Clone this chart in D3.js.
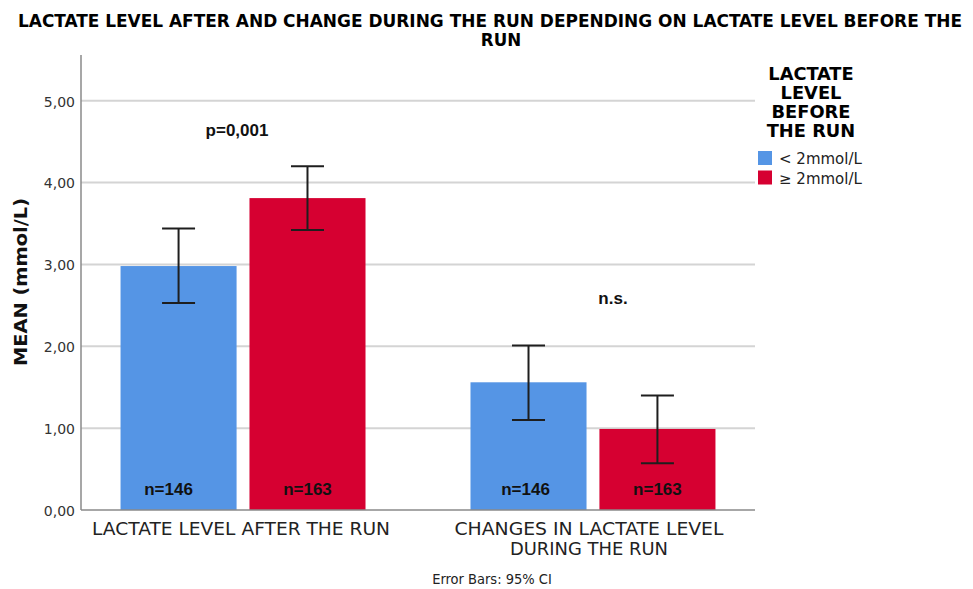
<!DOCTYPE html>
<html>
<head>
<meta charset="utf-8">
<script src="https://cdn.jsdelivr.net/npm/d3@7"></script>
<style>
  html, body { margin: 0; padding: 0; background: #fff; }
  svg { display: block; }
</style>
</head>
<body>
<svg id="chart" width="973" height="589"></svg>
<script>
// ---- data ----
const groups = ["LACTATE LEVEL AFTER THE RUN", "CHANGES IN LACTATE LEVEL DURING THE RUN"];
const groupLabelLines = [["LACTATE LEVEL AFTER THE RUN"], ["CHANGES IN LACTATE LEVEL", "DURING THE RUN"]];
const series = ["< 2mmol/L", "≥ 2mmol/L"];
const means = [[2.98, 3.81], [1.56, 0.99]];
const ciLow = [[2.53, 3.42], [1.10, 0.57]];
const ciHigh = [[3.44, 4.20], [2.01, 1.40]];
const nLabels = [["n=146", "n=163"], ["n=146", "n=163"]];
const sigLabels = ["p=0,001", "n.s."];
const sigValues = [4.64, 2.59];
const yTicks = [0, 1, 2, 3, 4, 5];
const legendTitle = ["LACTATE", "LEVEL", "BEFORE", "THE RUN"];
const colors = ["#5595e5", "#d60031"];

// ---- layout ----
const svg = d3.select("#chart");
const pLeft = 81, pRight = 755, pTop = 55, pBottom = 510;
const fmt = v => v.toFixed(2).replace(".", ",");

const y = d3.scaleLinear().domain([0, 5.558]).range([pBottom, pTop]);
const x0 = d3.scaleBand().domain(groups).range([pLeft, pRight]).paddingInner(0.3).paddingOuter(0.113);
const x1 = d3.scaleBand().domain(series).range([0, x0.bandwidth()]).paddingInner(0.1).paddingOuter(0);

// title
const title = svg.append("g").attr("font-family", "'DejaVu Sans Condensed', 'DejaVu Sans', sans-serif")
  .attr("font-weight", "bold").attr("font-size", 18.5).attr("fill", "#000").attr("text-anchor", "middle");
title.append("text").attr("x", 490).attr("y", 27)
  .attr("textLength", 944).attr("lengthAdjust", "spacingAndGlyphs")
  .text("LACTATE LEVEL AFTER AND CHANGE DURING THE RUN DEPENDING ON LACTATE LEVEL BEFORE THE");
title.append("text").attr("x", 501).attr("y", 46).text("RUN");

// gridlines
svg.append("g").selectAll("line").data(yTicks.filter(d => d > 0)).join("line")
  .attr("x1", pLeft).attr("x2", pRight).attr("y1", d => y(d)).attr("y2", d => y(d))
  .attr("stroke", "#d4d4d4").attr("stroke-width", 2);

// y axis
const yAxis = d3.axisLeft(y).tickValues(yTicks).tickFormat(fmt).tickSize(0).tickPadding(6);
const ya = svg.append("g").attr("transform", `translate(${pLeft},0)`).call(yAxis);
ya.select(".domain").remove();
ya.selectAll("text").attr("font-family", "'DejaVu Sans', Verdana, sans-serif")
  .attr("font-size", 14).attr("fill", "#333").attr("x", -6).attr("dy", "0.38em");
svg.append("line").attr("x1", pLeft).attr("x2", pLeft).attr("y1", pTop).attr("y2", pBottom)
  .attr("stroke", "#8a8a8a").attr("stroke-width", 1.5);

// y label
svg.append("text").attr("transform", `translate(27,282) rotate(-90)`)
  .attr("text-anchor", "middle").attr("font-family", "'DejaVu Sans', Verdana, sans-serif")
  .attr("font-weight", "bold").attr("font-size", 18).attr("fill", "#111")
  .attr("textLength", 168).attr("lengthAdjust", "spacingAndGlyphs")
  .text("MEAN (mmol/L)");

// bars
const g = svg.append("g").selectAll("g").data(groups).join("g")
  .attr("transform", d => `translate(${x0(d)},0)`);
g.each(function(grp, gi) {
  const sel = d3.select(this);
  series.forEach((s, si) => {
    const cx = x1(s) + x1.bandwidth() / 2;
    sel.append("rect").attr("x", x1(s)).attr("width", x1.bandwidth())
      .attr("y", y(means[gi][si])).attr("height", y(0) - y(means[gi][si]))
      .attr("fill", colors[si]);
    // error bar
    sel.append("line").attr("x1", cx).attr("x2", cx)
      .attr("y1", y(ciLow[gi][si])).attr("y2", y(ciHigh[gi][si]))
      .attr("stroke", "#1e1e1e").attr("stroke-width", 2);
    [ciLow[gi][si], ciHigh[gi][si]].forEach(v => {
      sel.append("line").attr("x1", cx - 16.5).attr("x2", cx + 16.5)
        .attr("y1", y(v)).attr("y2", y(v)).attr("stroke", "#1e1e1e").attr("stroke-width", 2);
    });
    // n labels
    sel.append("text").attr("x", cx - (si === 0 ? (gi === 0 ? 10 : 3) : 0)).attr("y", 495)
      .attr("text-anchor", "middle")
      .attr("font-family", "'Liberation Sans', Arial, sans-serif").attr("font-weight", "bold")
      .attr("font-size", 17).attr("fill", "#111").text(nLabels[gi][si]);
  });
  // significance label
  sel.append("text").attr("x", x0.bandwidth() / 2 - 6 + gi * 26).attr("y", y(sigValues[gi]) + 6)
    .attr("text-anchor", "middle")
    .attr("font-family", "'Liberation Sans', Arial, sans-serif").attr("font-weight", "bold")
    .attr("font-size", 17).attr("fill", "#111").text(sigLabels[gi]);
  // x labels
  const lens = gi === 0 ? [298] : [269, 158];
  groupLabelLines[gi].forEach((line, li) => {
    sel.append("text").attr("x", x0.bandwidth() / 2 - 2 - gi * 2).attr("y", 535 + li * 19.5)
      .attr("text-anchor", "middle").attr("font-family", "'DejaVu Sans', sans-serif")
      .attr("font-size", 17).attr("fill", "#222")
      .attr("textLength", lens[li]).attr("lengthAdjust", "spacingAndGlyphs").text(line);
  });
});

// x axis line
svg.append("line").attr("x1", pLeft).attr("x2", pRight).attr("y1", pBottom).attr("y2", pBottom)
  .attr("stroke", "#8a8a8a").attr("stroke-width", 1.5);

// footnote
svg.append("text").attr("x", 492).attr("y", 584).attr("text-anchor", "middle")
  .attr("font-family", "'DejaVu Sans Condensed', 'DejaVu Sans', sans-serif")
  .attr("font-size", 14.5).attr("fill", "#222").text("Error Bars: 95% CI");

// legend
const lg = svg.append("g");
lg.selectAll("text.lt").data(legendTitle).join("text").attr("class", "lt")
  .attr("x", 811).attr("y", (d, i) => 80 + i * 19).attr("text-anchor", "middle")
  .attr("font-family", "'DejaVu Sans Condensed', 'DejaVu Sans', sans-serif")
  .attr("font-weight", "bold").attr("font-size", 18).attr("fill", "#000").text(d => d)
  .each(function() {
    const len = this.getComputedTextLength();
    d3.select(this).attr("textLength", len * 1.1).attr("lengthAdjust", "spacingAndGlyphs");
  });
series.forEach((s, i) => {
  lg.append("rect").attr("x", 758).attr("y", 151 + i * 19.5).attr("width", 14).attr("height", 14)
    .attr("fill", colors[i]);
  lg.append("text").attr("x", 779).attr("y", 164 + i * 19.5)
    .attr("font-family", "'DejaVu Sans', Verdana, sans-serif").attr("font-size", 15)
    .attr("fill", "#222").text(s);
});
</script>
</body>
</html>
